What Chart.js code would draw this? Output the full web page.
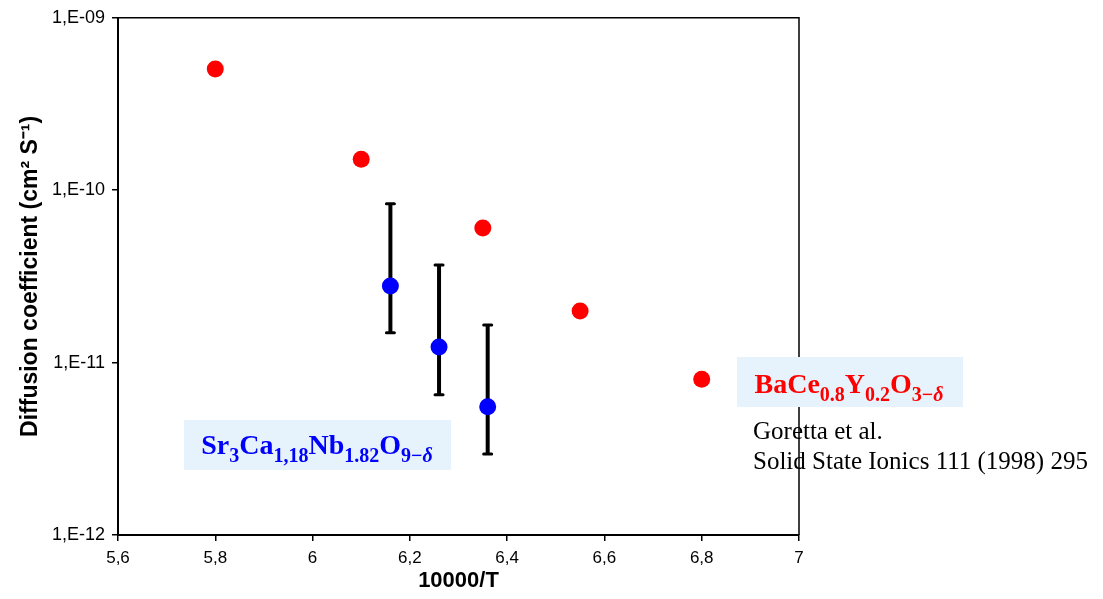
<!DOCTYPE html>
<html><head><meta charset="utf-8">
<script src="https://cdn.jsdelivr.net/npm/chart.js@4/dist/chart.umd.min.js"></script>
<style>html,body{margin:0;padding:0;background:#fff}#wrap{width:1103px;height:599px;position:relative}</style>
</head><body><div id="wrap"><canvas id="c"></canvas></div>
<script>
// ---- data ----
const xTickLabels = ['5,6','5,8','6','6,2','6,4','6,6','6,8','7'];
const xTickValues = [5.6,5.8,6.0,6.2,6.4,6.6,6.8,7.0];
const yTickValues = [1e-12,1e-11,1e-10,1e-9];
const yTickLabels = ['1,E-12','1,E-11','1,E-10','1,E-09'];
const baceX = [5.8,6.1,6.35,6.55,6.8];
const baceY = [5.05e-10,1.51e-10,6.03e-11,1.99e-11,8.0e-12];
const scnX = [6.16,6.26,6.36];
const scnY = [2.78e-11,1.23e-11,5.55e-12];
const scnYHigh = [8.35e-11,3.68e-11,1.65e-11];
const scnYLow = [1.49e-11,6.5e-12,2.95e-12];
const baceLabel = [['BaCe',0],['0.8',1],['Y',0],['0.2',1],['O',0],['3\u2212',1],['\u03B4',2]];
const scnLabel = [['Sr',0],['3',1],['Ca',0],['1,18',1],['Nb',0],['1.82',1],['O',0],['9\u2212',1],['\u03B4',2]];
const refLines = ['Goretta et al.','Solid State Ionics 111 (1998) 295'];

const SERIF = '"Liberation Serif","Times New Roman",serif';
function richFont(kind){
  if (kind===0) return 'bold 28px '+SERIF;
  if (kind===1) return 'bold 20px '+SERIF;
  return 'bold italic 20px '+SERIF;
}
function drawRich(ctx, segs, cx, baseline, color){
  let w=0;
  segs.forEach(s=>{ctx.font=richFont(s[1]); w+=ctx.measureText(s[0]).width;});
  let x=cx-w/2;
  ctx.fillStyle=color; ctx.textAlign='left'; ctx.textBaseline='alphabetic';
  segs.forEach(s=>{
    ctx.font=richFont(s[1]);
    ctx.fillText(s[0], x, baseline + (s[1]?7.5:0));
    x+=ctx.measureText(s[0]).width;
  });
}

const deco = {
  id:'deco',
  beforeDatasetsDraw(chart){
    const {ctx, chartArea:a} = chart;
    ctx.save();
    ctx.strokeStyle='#000'; ctx.lineWidth=1.5;
    ctx.beginPath(); ctx.moveTo(a.left,a.top); ctx.lineTo(a.right,a.top); ctx.lineTo(a.right,a.bottom); ctx.stroke();
    const xs=chart.scales.x, ys=chart.scales.y;
    scnX.forEach((xv,i)=>{
      const px=xs.getPixelForValue(xv), t=ys.getPixelForValue(scnYHigh[i]), b=ys.getPixelForValue(scnYLow[i]);
      ctx.lineCap='butt'; ctx.lineWidth=4;
      ctx.beginPath(); ctx.moveTo(px,t); ctx.lineTo(px,b); ctx.stroke();
      ctx.lineCap='round'; ctx.lineWidth=3;
      ctx.beginPath(); ctx.moveTo(px-4,t); ctx.lineTo(px+4,t); ctx.moveTo(px-4,b); ctx.lineTo(px+4,b); ctx.stroke();
    });
    ctx.restore();
  },
  afterDraw(chart){
    const ctx=chart.ctx;
    ctx.save();
    ctx.fillStyle='#e6f2fc';
    ctx.fillRect(737,357,226,50);
    ctx.fillRect(184,420,267,50);
    drawRich(ctx, baceLabel, 849, 393, '#ff0000');
    drawRich(ctx, scnLabel, 317, 454, '#0000ff');
    ctx.fillStyle='#000'; ctx.font='25px '+SERIF; ctx.textAlign='left'; ctx.textBaseline='alphabetic';
    ctx.fillText(refLines[0], 753, 439);
    ctx.fillText(refLines[1], 753, 469);
    ctx.restore();
  }
};

Chart.defaults.font.family='"Liberation Sans", Arial, sans-serif';
Chart.defaults.color='#000';

new Chart(document.getElementById('c'), {
  type:'scatter',
  data:{datasets:[
    {label:'BaCe0.8Y0.2O3-d', data:baceX.map((x,i)=>({x, y:baceY[i]})), backgroundColor:'#ff0000', borderWidth:0, pointRadius:8.5, pointHoverRadius:8.5},
    {label:'Sr3Ca1.18Nb1.82O9-d', data:scnX.map((x,i)=>({x, y:scnY[i]})), backgroundColor:'#0000ff', borderWidth:0, pointRadius:8.5, pointHoverRadius:8.5}
  ]},
  options:{
    responsive:true, maintainAspectRatio:false, animation:false,
    layout:{padding:{top:17,right:304,left:0,bottom:0}},
    plugins:{legend:{display:false}, tooltip:{enabled:false}},
    scales:{
      x:{type:'linear', min:5.6, max:7.0,
        afterBuildTicks(s){ s.ticks = xTickValues.map(v=>({value:v})); },
        afterFit(s){ s.height=64; },
        ticks:{callback:(v,i)=>xTickLabels[i], font:{size:17}, padding:7, color:'#000', maxRotation:0, autoSkip:false},
        grid:{display:true, drawOnChartArea:false, drawTicks:true, tickLength:6, color:'#000', lineWidth:1.5},
        border:{display:true, color:'#000', width:2},
        title:{display:true, text:'10000/T', font:{size:22, weight:'bold'}, padding:{top:0,bottom:5}, color:'#000'}
      },
      y:{type:'logarithmic', min:1e-12, max:1e-9,
        afterBuildTicks(s){ s.ticks = yTickValues.map(v=>({value:v})); },
        afterFit(s){ s.width=118; },
        ticks:{callback:(v,i)=>yTickLabels[i], font:{size:18}, padding:7, color:'#000', autoSkip:false},
        grid:{display:true, drawOnChartArea:false, drawTicks:true, tickLength:6, color:'#000', lineWidth:1.5},
        border:{display:true, color:'#000', width:2},
        title:{display:true, text:'Diffusion coefficient (cm\u00B2 S\u207B\u00B9)', font:{size:23, weight:'bold'}, padding:{top:17,bottom:0}, color:'#000'}
      }
    }
  },
  plugins:[deco]
});
</script>
</body></html>
